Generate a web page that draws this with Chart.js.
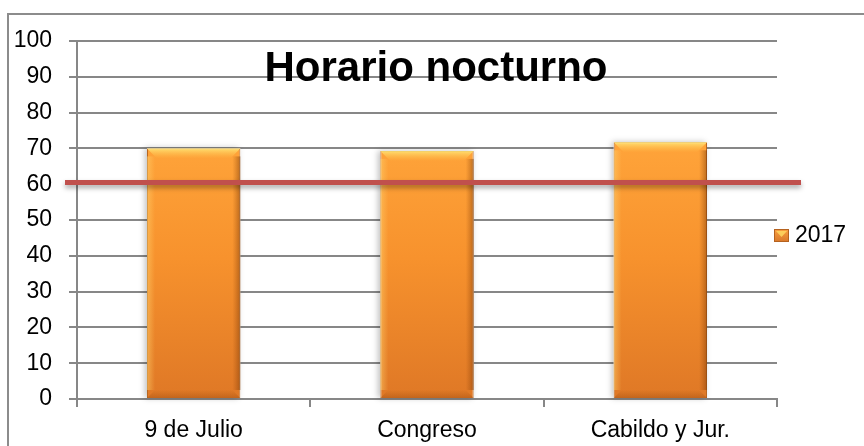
<!DOCTYPE html>
<html>
<head>
<meta charset="utf-8">
<script src="https://cdn.jsdelivr.net/npm/chart.js@4"></script>
<style>
	html, body { margin: 0; padding: 0; background: #fff; }
	#wrap { position: relative; width: 864px; height: 446px; }
</style>
</head>
<body>
<div id="wrap"><canvas id="barChart" width="864" height="446"></canvas></div>
<script>
// chart data
const categories = ['9 de Julio', 'Congreso', 'Cabildo y Jur.'];
const seriesName = '2017';
const values2017 = [70, 69.3, 71.7];
const targetValue = 60.5;
const yTicks = [0, 10, 20, 30, 40, 50, 60, 70, 80, 90, 100];
const chartTitle = 'Horario nocturno';

const gridGray = '#878787';
const fontFamily = '"Liberation Sans", Arial, sans-serif';

function barGradient(context) {
	const chart = context.chart;
	const area = chart.chartArea;
	if (!area) return '#F7962F';
	const yScale = chart.scales.y;
	const top = yScale.getPixelForValue(Math.max(...values2017));
	const g = chart.ctx.createLinearGradient(0, top, 0, area.bottom);
	g.addColorStop(0, '#FFA43A');
	g.addColorStop(0.45, '#F7922D');
	g.addColorStop(1, '#DF7826');
	return g;
}

// border, title, target line, bevel and legend
const extras = {
	id: 'extras',
	beforeDatasetsDraw(chart) {
		const ctx = chart.ctx;
		const meta = chart.getDatasetMeta(0);
		ctx.save();
		ctx.shadowColor = 'rgba(0,0,0,0.25)';
		ctx.shadowBlur = 6;
		ctx.shadowOffsetX = -2;
		ctx.shadowOffsetY = 0;
		ctx.fillStyle = '#fff';
		meta.data.forEach(bar => {
			ctx.fillRect(bar.x - bar.width / 2, bar.y, bar.width, bar.base - bar.y);
		});
		ctx.restore();
	},
	afterDatasetsDraw(chart) {
		const ctx = chart.ctx;
		const meta = chart.getDatasetMeta(0);
		ctx.save();
		meta.data.forEach(bar => {
			const l = bar.x - bar.width / 2, r = bar.x + bar.width / 2;
			const t = bar.y, b = bar.base;
			// top bevel
			let g = ctx.createLinearGradient(0, t, 0, t + 10);
			g.addColorStop(0, 'rgba(255,230,120,0.9)');
			g.addColorStop(1, 'rgba(255,200,80,0)');
			ctx.fillStyle = g;
			ctx.beginPath();
			ctx.moveTo(l, t); ctx.lineTo(r, t); ctx.lineTo(r - 10, t + 10); ctx.lineTo(l + 10, t + 10); ctx.closePath();
			ctx.fill();
			// right bevel
			g = ctx.createLinearGradient(r - 8, 0, r, 0);
			g.addColorStop(0, 'rgba(150,70,10,0)');
			g.addColorStop(1, 'rgba(120,55,5,0.5)');
			ctx.fillStyle = g;
			ctx.fillRect(r - 8, t + 8, 8, b - t - 16);
			// left bevel
			g = ctx.createLinearGradient(l, 0, l + 8, 0);
			g.addColorStop(0, 'rgba(255,210,110,0.5)');
			g.addColorStop(1, 'rgba(255,210,110,0)');
			ctx.fillStyle = g;
			ctx.fillRect(l, t + 8, 8, b - t - 16);
			// bottom bevel
			g = ctx.createLinearGradient(0, b - 8, 0, b);
			g.addColorStop(0, 'rgba(150,70,10,0)');
			g.addColorStop(1, 'rgba(140,65,10,0.35)');
			ctx.fillStyle = g;
			ctx.beginPath();
			ctx.moveTo(l + 8, b - 8); ctx.lineTo(r - 8, b - 8); ctx.lineTo(r, b); ctx.lineTo(l, b); ctx.closePath();
			ctx.fill();
		});
		ctx.restore();
	},
	afterDraw(chart) {
		const ctx = chart.ctx;
		const area = chart.chartArea;
		const y = chart.scales.y.getPixelForValue(targetValue);
		ctx.save();
		// outer frame (top and left edges visible)
		ctx.strokeStyle = '#8c8c8c';
		ctx.lineWidth = 2;
		ctx.beginPath();
		ctx.moveTo(8, 446);
		ctx.lineTo(8, 14);
		ctx.lineTo(864, 14);
		ctx.stroke();

		// target line
		ctx.shadowColor = 'rgba(0,0,0,0.35)';
		ctx.shadowBlur = 5;
		ctx.shadowOffsetY = 3;
		ctx.strokeStyle = '#C0504D';
		ctx.lineWidth = 5;
		ctx.beginPath();
		ctx.moveTo(area.left - 12, y);
		ctx.lineTo(area.right + 24, y);
		ctx.stroke();
		ctx.shadowColor = 'transparent';

		// title
		ctx.fillStyle = '#000';
		ctx.font = 'bold 42px ' + fontFamily;
		ctx.textAlign = 'center';
		ctx.textBaseline = 'alphabetic';
		ctx.fillText(chartTitle, 436, 81);

		// legend
		const lx = area.right - 3, ly = 229;
		const g = ctx.createLinearGradient(0, ly, 0, ly + 13);
		g.addColorStop(0, '#F9A040');
		g.addColorStop(1, '#D9782A');
		ctx.fillStyle = g;
		ctx.fillRect(lx, ly, 15, 13);
		ctx.fillStyle = 'rgba(255,220,100,0.8)';
		ctx.beginPath();
		ctx.moveTo(lx + 2, ly + 2); ctx.lineTo(lx + 13, ly + 2); ctx.lineTo(lx + 7.5, ly + 8); ctx.closePath();
		ctx.fill();
		ctx.strokeStyle = '#B5621F';
		ctx.lineWidth = 1;
		ctx.strokeRect(lx + 0.5, ly + 0.5, 14, 12);
		ctx.fillStyle = '#000';
		ctx.font = '23px ' + fontFamily;
		ctx.textAlign = 'left';
		ctx.textBaseline = 'middle';
		ctx.fillText(chart.data.datasets[0].label, lx + 21, ly + 7);
		ctx.restore();
	}
};

new Chart(document.getElementById('barChart'), {
	type: 'bar',
	data: {
		labels: categories,
		datasets: [{
			label: seriesName,
			data: values2017,
			backgroundColor: barGradient,
			borderColor: '#B8661F',
			borderWidth: 1,
			barPercentage: 1,
			categoryPercentage: 0.4
		}]
	},
	options: {
		responsive: false,
		animation: false,
		devicePixelRatio: 1,
		layout: { padding: { top: 41, right: 87, bottom: 0, left: 0 } },
		plugins: {
			legend: { display: false },
			title: { display: false },
			tooltip: { enabled: false }
		},
		scales: {
			x: {
				offset: true,
				grid: {
					offset: true,
					drawOnChartArea: false,
					color: gridGray,
					lineWidth: 2,
					tickLength: 8
				},
				border: { color: gridGray, width: 2 },
				ticks: {
					color: '#000',
					padding: 10,
					font: { family: fontFamily, size: 23 }
				},
				afterFit(scale) { scale.height = 47; }
			},
			y: {
				min: 0,
				max: 100,
				afterBuildTicks(scale) { scale.ticks = yTicks.map(v => ({ value: v })); },
				grid: {
					color: gridGray,
					lineWidth: 2,
					tickLength: 8
				},
				border: { color: gridGray, width: 2 },
				ticks: {
					color: '#000',
					padding: 17,
					font: { family: fontFamily, size: 23 }
				},
				afterFit(scale) { scale.width = 77; }
			}
		}
	},
	plugins: [extras]
});
</script>
</body>
</html>
